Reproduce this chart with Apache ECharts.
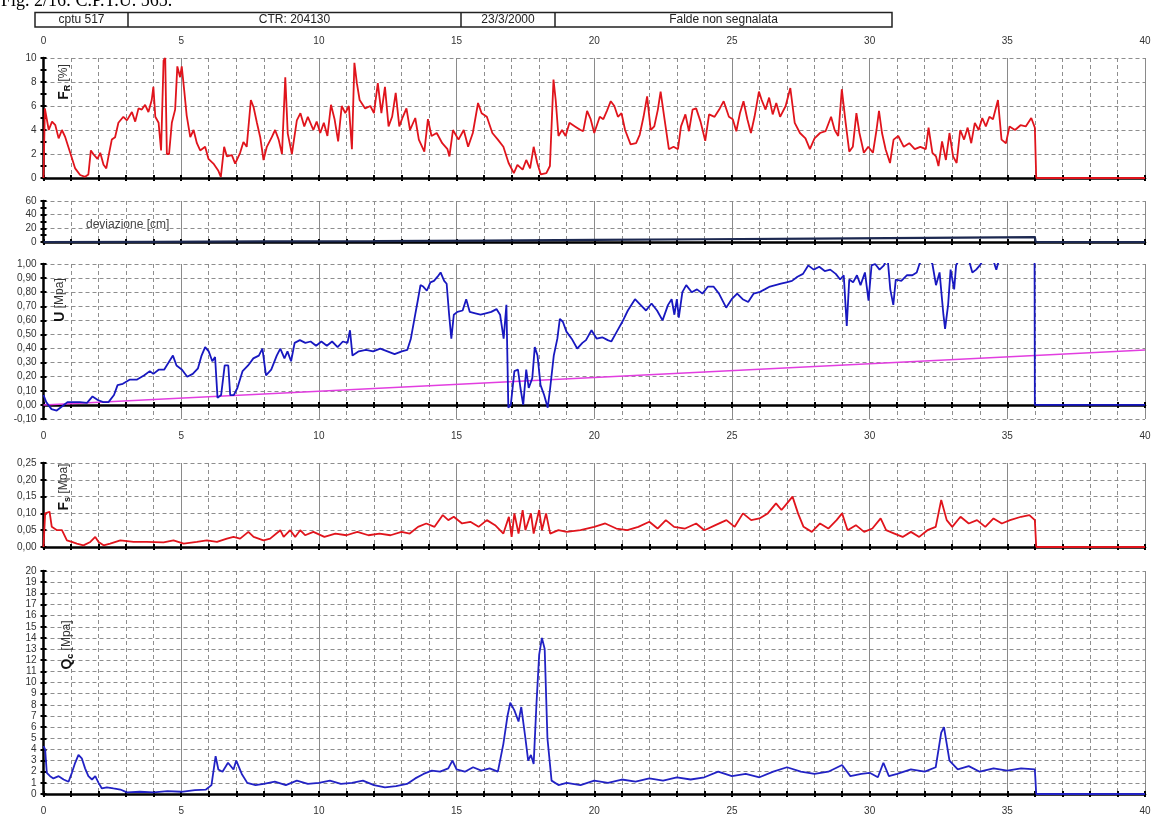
<!DOCTYPE html>
<html><head><meta charset="utf-8">
<script src="https://cdn.jsdelivr.net/npm/echarts@6/dist/echarts.min.js"></script>
<style>html,body{margin:0;padding:0;background:#fff}#c{width:1159px;height:820px}</style>
</head><body><div id="c"></div>
<script>
// ---------- DATA ----------
const depthTicks = [0,5,10,15,20,25,30,35,40];
const headerCells = ['cptu 517','CTR: 204130','23/3/2000','Falde non segnalata'];
const figTitle = 'Fig. 2/16: C.P.T.U. 565.';

// Friction ratio Fr [%] vs depth [m]
const frData = [[0,0],[0.05,5.8],[0.19,4.0],[0.31,4.7],[0.43,4.4],[0.55,3.3],[0.67,4.0],[0.79,3.4],[0.97,2.1],[1.15,0.8],[1.33,0.25],[1.51,0.1],[1.63,0.3],[1.72,2.3],[1.84,1.9],[1.96,1.6],[2.06,2.1],[2.18,1.1],[2.28,0.8],[2.36,1.8],[2.48,3.2],[2.6,3.4],[2.72,4.6],[2.9,5.1],[3.03,4.8],[3.21,5.5],[3.33,4.7],[3.45,5.8],[3.57,5.7],[3.69,6.1],[3.81,5.5],[3.93,6.5],[3.99,7.6],[4.06,5.1],[4.18,4.6],[4.27,2.3],[4.36,9.8],[4.42,10],[4.48,2.0],[4.56,2.0],[4.66,4.6],[4.78,5.7],[4.86,9.3],[4.96,8.4],[5.02,9.3],[5.11,7.3],[5.2,5.2],[5.33,3.4],[5.45,4.0],[5.57,2.9],[5.69,2.3],[5.87,2.6],[5.99,1.6],[6.17,1.2],[6.35,0.6],[6.44,0.1],[6.56,2.6],[6.66,1.8],[6.84,1.9],[6.96,1.2],[7.14,2.1],[7.26,3.0],[7.38,2.6],[7.53,6.5],[7.63,5.9],[7.75,4.6],[7.87,3.4],[7.99,1.5],[8.11,2.6],[8.29,3.4],[8.41,4.0],[8.54,3.2],[8.66,2.0],[8.78,8.4],[8.87,3.7],[9.02,2.0],[9.2,4.8],[9.33,5.4],[9.47,4.3],[9.6,5.1],[9.8,4.0],[9.92,4.7],[10.05,3.75],[10.18,4.6],[10.31,3.5],[10.44,6.1],[10.57,4.9],[10.7,3.05],[10.83,6.0],[10.96,5.4],[11.09,6.0],[11.2,2.4],[11.29,9.6],[11.38,7.9],[11.48,6.5],[11.68,5.8],[11.87,6.0],[12.0,5.4],[12.14,7.9],[12.27,5.4],[12.4,7.6],[12.53,4.3],[12.66,5.1],[12.79,7.1],[12.92,4.3],[13.05,5.1],[13.18,5.8],[13.31,4.0],[13.5,5.0],[13.63,3.2],[13.83,2.2],[13.96,4.9],[14.09,3.5],[14.28,3.75],[14.48,2.9],[14.67,2.4],[14.74,1.8],[14.87,4.0],[15.07,3.2],[15.26,4.0],[15.42,2.6],[15.59,3.75],[15.78,6.25],[15.91,5.4],[16.1,5.1],[16.3,3.75],[16.5,3.2],[16.7,2.6],[16.89,1.25],[17.08,0.4],[17.21,1.1],[17.4,0.7],[17.53,1.5],[17.67,0.8],[17.8,2.6],[17.93,1.25],[18.06,0.3],[18.26,0.4],[18.39,1.0],[18.52,8.2],[18.6,6.5],[18.7,3.5],[18.83,4.0],[18.96,3.5],[19.1,4.6],[19.3,4.3],[19.5,4.0],[19.6,3.9],[19.74,5.6],[19.87,4.9],[20.0,3.75],[20.2,5.1],[20.33,4.9],[20.46,5.6],[20.6,6.4],[20.73,6.0],[20.86,5.1],[20.99,5.4],[21.12,4.0],[21.32,2.8],[21.52,2.9],[21.65,3.6],[21.79,5.1],[21.92,6.8],[22.05,4.0],[22.18,4.3],[22.31,5.7],[22.41,7.2],[22.54,5.1],[22.71,2.4],[22.88,2.6],[23.04,2.4],[23.15,4.3],[23.31,5.3],[23.44,3.9],[23.57,5.7],[23.7,5.8],[23.86,4.7],[24.03,3.1],[24.17,5.3],[24.37,5.1],[24.56,5.8],[24.7,6.4],[24.89,5.1],[25.03,4.9],[25.16,3.9],[25.29,5.4],[25.42,6.4],[25.56,4.9],[25.69,3.75],[25.82,5.1],[25.98,7.2],[26.08,6.5],[26.22,5.7],[26.35,6.7],[26.48,5.3],[26.61,6.25],[26.75,5.1],[26.95,6.0],[27.12,7.5],[27.28,4.6],[27.47,3.75],[27.67,3.3],[27.83,2.4],[28.0,3.3],[28.2,3.75],[28.4,3.9],[28.6,5.1],[28.73,4.0],[28.86,3.5],[28.99,7.4],[29.13,4.6],[29.26,2.2],[29.39,2.6],[29.52,5.4],[29.63,3.75],[29.79,2.1],[29.95,2.6],[30.12,2.1],[30.25,4.0],[30.34,5.6],[30.45,3.75],[30.58,2.4],[30.74,1.25],[30.87,3.2],[31.04,3.5],[31.24,2.6],[31.44,2.9],[31.64,2.4],[31.84,2.6],[32.04,2.4],[32.14,4.2],[32.28,2.1],[32.41,1.8],[32.5,1.0],[32.63,3.05],[32.77,1.5],[32.9,3.75],[33.03,1.8],[33.16,1.25],[33.29,4.0],[33.43,3.2],[33.56,4.2],[33.69,2.9],[33.82,4.6],[33.96,4.0],[34.09,5.0],[34.22,4.3],[34.35,5.1],[34.48,4.9],[34.66,6.5],[34.79,3.2],[34.95,2.9],[35.08,4.3],[35.28,4.0],[35.48,4.4],[35.67,4.3],[35.87,5.0],[36.0,4.2],[36.05,0],[40,0]];

// Deviazione [cm]
const devData = [[0,0],[4,0.3],[8,0.8],[12,1.4],[16,2.1],[20,3.0],[24,4.0],[28,5.0],[32,6.0],[36,7.0],[36.03,0],[40,0]];

// Pore pressure U [MPa]
const uData = [[0,0.07],[0.1,0.02],[0.29,-0.03],[0.48,-0.04],[0.68,-0.01],[0.87,0.02],[1.06,0.02],[1.32,0.02],[1.58,0.015],[1.78,0.06],[1.97,0.035],[2.17,0.02],[2.36,0.02],[2.56,0.07],[2.69,0.14],[2.88,0.15],[3.14,0.18],[3.4,0.18],[3.66,0.21],[3.86,0.24],[3.99,0.22],[4.18,0.25],[4.38,0.25],[4.57,0.31],[4.7,0.35],[4.83,0.28],[5.03,0.25],[5.22,0.2],[5.42,0.22],[5.61,0.26],[5.74,0.35],[5.87,0.41],[6.0,0.38],[6.13,0.31],[6.23,0.34],[6.32,0.05],[6.45,0.07],[6.58,0.28],[6.71,0.28],[6.78,0.07],[6.91,0.07],[7.04,0.12],[7.23,0.24],[7.43,0.28],[7.62,0.33],[7.82,0.35],[7.95,0.4],[8.08,0.21],[8.27,0.25],[8.47,0.35],[8.6,0.4],[8.75,0.33],[8.86,0.38],[8.99,0.31],[9.12,0.44],[9.31,0.46],[9.51,0.44],[9.7,0.45],[9.9,0.42],[10.09,0.45],[10.29,0.42],[10.48,0.45],[10.68,0.41],[10.87,0.45],[11.04,0.44],[11.13,0.53],[11.22,0.35],[11.45,0.38],[11.71,0.39],[11.97,0.38],[12.23,0.4],[12.49,0.38],[12.75,0.36],[13.01,0.38],[13.21,0.39],[13.34,0.47],[13.47,0.61],[13.6,0.75],[13.69,0.85],[13.79,0.84],[13.92,0.81],[14.05,0.87],[14.18,0.88],[14.31,0.91],[14.42,0.94],[14.55,0.88],[14.64,0.86],[14.73,0.64],[14.81,0.47],[14.9,0.64],[15.03,0.66],[15.22,0.67],[15.35,0.75],[15.48,0.66],[15.68,0.65],[15.87,0.64],[16.06,0.65],[16.26,0.66],[16.45,0.68],[16.58,0.64],[16.71,0.47],[16.81,0.71],[16.88,-0.02],[16.97,0.0],[17.1,0.24],[17.23,0.25],[17.32,0.12],[17.42,0.0],[17.53,0.25],[17.62,0.12],[17.75,0.19],[17.84,0.41],[17.94,0.35],[18.05,0.14],[18.18,0.07],[18.31,-0.02],[18.4,0.12],[18.53,0.35],[18.66,0.47],[18.75,0.61],[18.86,0.59],[18.99,0.52],[19.18,0.47],[19.38,0.4],[19.57,0.44],[19.7,0.46],[19.9,0.53],[20.09,0.47],[20.29,0.48],[20.49,0.46],[20.62,0.45],[20.82,0.52],[21.02,0.59],[21.22,0.67],[21.48,0.75],[21.68,0.71],[21.88,0.67],[22.08,0.72],[22.28,0.67],[22.48,0.6],[22.68,0.71],[22.81,0.75],[22.91,0.64],[23.0,0.75],[23.07,0.62],[23.2,0.8],[23.34,0.85],[23.54,0.8],[23.73,0.82],[23.93,0.79],[24.13,0.84],[24.33,0.84],[24.53,0.79],[24.79,0.69],[24.99,0.75],[25.19,0.79],[25.39,0.75],[25.59,0.73],[25.79,0.79],[25.99,0.8],[26.19,0.82],[26.38,0.84],[26.58,0.85],[26.78,0.86],[26.98,0.87],[27.18,0.88],[27.38,0.91],[27.58,0.93],[27.77,0.99],[27.97,0.96],[28.17,0.98],[28.37,0.95],[28.57,0.96],[28.77,0.93],[28.93,0.89],[29.06,0.92],[29.17,0.56],[29.26,0.89],[29.4,0.87],[29.54,0.92],[29.67,0.85],[29.83,0.94],[29.96,0.74],[30.07,0.99],[30.2,1.0],[30.36,0.96],[30.52,0.99],[30.65,1.05],[30.75,0.82],[30.86,0.71],[30.95,0.89],[31.15,0.88],[31.35,0.92],[31.55,0.92],[31.71,0.94],[31.81,1.0],[31.95,1.05],[32.15,1.04],[32.28,1.0],[32.41,0.85],[32.54,0.94],[32.68,0.64],[32.74,0.54],[32.85,0.71],[32.94,0.96],[33.07,0.82],[33.14,0.99],[33.3,1.05],[33.6,1.03],[33.73,0.94],[33.87,0.96],[34.0,0.99],[34.2,1.05],[34.5,1.02],[34.6,0.96],[34.7,1.03],[35.3,1.06],[35.99,1.05],[36.0,0],[40,0]];

// Hydrostatic pressure line U0 [MPa]
const u0Data = [[0,0],[40,0.39]];

// Sleeve friction fs [MPa]
const fsData = [[0,0.0],[0.06,0.1],[0.22,0.105],[0.3,0.06],[0.49,0.05],[0.67,0.05],[0.85,0.02],[1.03,0.015],[1.21,0.01],[1.45,0.005],[1.7,0.015],[1.88,0.03],[2.0,0.015],[2.18,0.005],[2.42,0.01],[2.79,0.02],[3.27,0.015],[3.75,0.015],[4.36,0.014],[4.72,0.02],[5.09,0.01],[5.57,0.015],[5.93,0.02],[6.3,0.015],[6.66,0.025],[6.9,0.03],[7.14,0.025],[7.44,0.045],[7.63,0.03],[7.99,0.02],[8.23,0.025],[8.6,0.05],[8.72,0.03],[8.96,0.05],[9.14,0.03],[9.32,0.05],[9.5,0.035],[9.8,0.045],[10.2,0.03],[10.6,0.04],[11.0,0.035],[11.4,0.045],[11.8,0.035],[12.2,0.04],[12.6,0.035],[13.0,0.045],[13.3,0.04],[13.6,0.06],[13.9,0.07],[14.2,0.06],[14.5,0.095],[14.7,0.08],[14.9,0.09],[15.2,0.07],[15.5,0.075],[15.8,0.06],[16.1,0.08],[16.4,0.065],[16.7,0.04],[16.9,0.09],[17.0,0.03],[17.1,0.1],[17.25,0.04],[17.4,0.11],[17.5,0.05],[17.7,0.1],[17.8,0.04],[18.0,0.11],[18.1,0.05],[18.25,0.1],[18.4,0.04],[18.7,0.05],[19.0,0.045],[19.5,0.05],[20.0,0.06],[20.4,0.07],[20.8,0.055],[21.2,0.05],[21.6,0.06],[22.0,0.075],[22.3,0.055],[22.6,0.08],[22.9,0.06],[23.3,0.055],[23.7,0.07],[24.0,0.05],[24.4,0.065],[24.8,0.08],[25.1,0.06],[25.4,0.1],[25.7,0.08],[26.0,0.085],[26.3,0.1],[26.6,0.13],[26.8,0.11],[27.0,0.13],[27.2,0.15],[27.4,0.1],[27.6,0.06],[27.9,0.045],[28.2,0.07],[28.5,0.055],[28.8,0.08],[29.0,0.1],[29.2,0.05],[29.5,0.065],[29.8,0.045],[30.1,0.055],[30.4,0.085],[30.6,0.05],[30.9,0.04],[31.2,0.03],[31.5,0.045],[31.8,0.03],[32.1,0.05],[32.4,0.06],[32.6,0.14],[32.8,0.08],[33.0,0.06],[33.3,0.09],[33.6,0.07],[33.9,0.08],[34.2,0.06],[34.5,0.085],[34.8,0.07],[35.1,0.08],[35.5,0.09],[35.8,0.095],[36.0,0.08],[36.05,0],[40,0]];

// Cone resistance qc [MPa]
const qcData = [[0,4.3],[0.06,4.0],[0.12,1.9],[0.24,1.6],[0.36,1.4],[0.55,1.6],[0.73,1.3],[0.91,1.1],[1.03,1.9],[1.15,2.8],[1.27,3.5],[1.39,3.2],[1.51,2.3],[1.63,1.6],[1.76,1.3],[1.88,1.6],[2.0,1.0],[2.12,0.5],[2.3,0.6],[2.54,0.5],[2.79,0.4],[3.03,0.15],[3.5,0.2],[4.0,0.15],[4.5,0.25],[5.0,0.2],[5.5,0.35],[5.9,0.4],[6.1,0.8],[6.25,3.4],[6.35,2.2],[6.5,2.0],[6.7,2.8],[6.9,2.2],[7.0,3.0],[7.2,1.8],[7.4,1.0],[7.7,0.8],[8.0,0.9],[8.4,1.1],[8.8,0.8],[9.2,1.2],[9.6,0.9],[10.0,1.0],[10.4,1.2],[10.8,0.9],[11.2,1.0],[11.6,1.2],[12.0,0.8],[12.4,0.6],[12.8,0.7],[13.2,0.9],[13.5,1.4],[13.8,1.8],[14.1,2.1],[14.4,2.0],[14.7,2.3],[14.85,3.0],[15.0,2.2],[15.3,2.0],[15.6,2.4],[15.9,2.1],[16.2,2.3],[16.5,2.0],[16.7,4.5],[16.85,7.0],[16.95,8.2],[17.1,7.5],[17.25,6.5],[17.35,7.8],[17.5,5.0],[17.6,3.0],[17.7,3.5],[17.8,2.7],[17.9,8.0],[18.0,12.5],[18.1,14.0],[18.2,13.0],[18.3,5.0],[18.45,1.2],[18.7,0.8],[19.0,1.0],[19.5,0.8],[20.0,1.2],[20.5,1.0],[21.0,1.3],[21.5,1.1],[22.0,1.4],[22.5,1.2],[23.0,1.5],[23.5,1.3],[24.0,1.5],[24.5,2.0],[25.0,1.6],[25.5,1.8],[26.0,1.5],[26.5,2.0],[27.0,2.4],[27.5,2.0],[28.0,1.8],[28.5,2.0],[29.0,2.6],[29.3,1.6],[29.7,1.8],[30.0,1.9],[30.3,1.5],[30.5,2.8],[30.7,1.6],[31.0,1.8],[31.5,2.2],[32.0,2.0],[32.4,2.4],[32.6,5.5],[32.7,6.0],[32.8,4.5],[32.9,3.0],[33.2,2.2],[33.6,2.5],[34.0,2.0],[34.5,2.3],[35.0,2.1],[35.5,2.3],[36.0,2.2],[36.05,0],[40,0]];

// ---------- LAYOUT / STYLE ----------
const FONT = '"Liberation Sans", Arial, sans-serif';
const LEFT = 43.5, RIGHT = 14;
const GRIDS = [
  {top:58, height:120, min:0, max:10, interval:2, minor:2, fmt:v=>String(v), labelPos:'top'},
  {top:201, height:41, min:0, max:60, interval:20, minor:2, fmt:v=>String(v), labelPos:null},
  {top:264, height:155, min:-0.1, max:1.0, interval:0.1, minor:0, fmt:v=>v.toFixed(2).replace('.',','), labelPos:'bottom'},
  {top:463, height:84, min:0, max:0.25, interval:0.05, minor:0, fmt:v=>v.toFixed(2).replace('.',','), labelPos:null},
  {top:571, height:223, min:0, max:20, interval:1, minor:0, fmt:v=>String(v), labelPos:'bottom'}
];
const dash = {color:'#8e8e8e', width:1, type:[4,3]};
const tickStyle = {color:'#000', width:2};
const grid = GRIDS.map(g => ({left:LEFT, right:RIGHT, top:g.top, height:g.height}));
const xAxis = [], yAxis = [], mainX = [], mainY = [];
const off = {show:false};
function base(gi){return {gridIndex:gi, type:'value', min:0, max:40, interval:5, axisLabel:off, axisLine:{show:false,onZero:true}, axisTick:off, minorTick:off, splitLine:off, minorSplitLine:off};}
GRIDS.forEach((g, gi) => {
  mainX.push(xAxis.length);
  xAxis.push(Object.assign(base(gi), {position:'bottom',
    axisLine:{show:true,onZero:true,lineStyle:{color:'#000',width:2.5}},
    axisTick:{show:true,inside:true,length:3,lineStyle:tickStyle},
    minorTick:{show:true,splitNumber:5,length:3,lineStyle:tickStyle},
    splitLine:{show:true,lineStyle:{color:'#8a8a8a',width:1}},
    minorSplitLine:{show:true,lineStyle:dash}}));
  xAxis.push(Object.assign(base(gi), {position:'bottom',
    axisTick:{show:true,inside:false,length:3,lineStyle:tickStyle},
    minorTick:{show:true,splitNumber:5,length:3,lineStyle:tickStyle}}));
  if (g.labelPos) {
    xAxis.push(Object.assign(base(gi), {position:g.labelPos, axisLine:{show:false,onZero:false},
      axisLabel:{show:true, margin:12, fontSize:10, color:'#333', fontFamily:FONT,
        formatter:v=>depthTicks.indexOf(v)>=0?String(v):''}}));
  }
  mainY.push(yAxis.length);
  yAxis.push({gridIndex:gi, type:'value', position:'left', offset:0, min:g.min, max:g.max, interval:g.interval,
    axisLine:{show:true,onZero:false,lineStyle:{color:'#000',width:2.5}},
    axisTick:{show:true,inside:true,length:3,lineStyle:tickStyle},
    minorTick:{show:g.minor>0,splitNumber:g.minor||2,length:3,lineStyle:tickStyle},
    axisLabel:{show:true,margin:7,fontSize:10,color:'#333',fontFamily:FONT,formatter:g.fmt},
    splitLine:{show:true,lineStyle:dash}, minorSplitLine:off});
  yAxis.push({gridIndex:gi, type:'value', position:'left', offset:0, min:g.min, max:g.max, interval:g.interval,
    axisLine:{show:false,onZero:false}, axisLabel:off, splitLine:off,
    axisTick:{show:true,inside:false,length:3,lineStyle:tickStyle},
    minorTick:{show:g.minor>0,splitNumber:g.minor||2,length:3,lineStyle:tickStyle}});
});

function line(gi, data, color, width, z){
  return {type:'line', xAxisIndex:mainX[gi], yAxisIndex:mainY[gi], data, symbol:'none', showSymbol:false,
    clip:true, z:z||3, lineStyle:{color, width:width||1.5}, emphasis:{disabled:true}};
}
const series = [
  line(0, frData, '#e0141c', 1.8),
  line(1, devData, '#1c2850', 2.2),
  line(2, u0Data, '#e23ee0', 1.5, 2),
  line(2, uData, '#1818c0', 1.8),
  line(3, fsData, '#e0141c', 1.8),
  line(4, qcData, '#2222c4', 1.8)
];

function txt(x, y, text, font, fill, align){
  align = align || 'center';
  return {type:'text', x, y, z:100, style:{text, font, fill:fill||'#222', align, verticalAlign:'middle', textAlign:align, textVerticalAlign:'middle'}};
}
const cellX = [35,128,461,555,892];
const graphic = [
  {type:'text', x:1, y:10, z:100, style:{text:figTitle, font:'18px "Liberation Serif", "Times New Roman", serif', fill:'#000', align:'left', verticalAlign:'bottom', textAlign:'left', textVerticalAlign:'bottom'}},
  {type:'rect', z:100, shape:{x:cellX[0], y:12.5, width:cellX[4]-cellX[0], height:14.5}, style:{fill:'#fff', stroke:'#222', lineWidth:1.5}}
];
for (let i=1;i<4;i++) graphic.push({type:'line', z:101, shape:{x1:cellX[i],y1:12.5,x2:cellX[i],y2:27}, style:{stroke:'#222',lineWidth:1.5}});
headerCells.forEach((t,i)=>graphic.push(txt((cellX[i]+cellX[i+1])/2, 20, t, '12px '+FONT, '#222')));
graphic.push(txt(86, 225, 'deviazione [cm]', '12px '+FONT, '#444', 'left'));
const richT = {
  b:{fontSize:14, fontWeight:'bold', fontFamily:FONT, fill:'#111', color:'#111'},
  s:{fontSize:9, fontWeight:'bold', fontFamily:FONT, fill:'#111', color:'#111', verticalAlign:'bottom', padding:[7,0,0,0]},
  n:{fontSize:12, fontFamily:FONT, fill:'#333', color:'#333'}
};
function vname(x, y, text){
  return {type:'text', x, y, z:100, rotation:Math.PI/2, style:{text, rich:richT, align:'center', verticalAlign:'middle', textAlign:'center', textVerticalAlign:'middle'}};
}
graphic.push(vname(64, 82, '{b|F}{s|R} {n|[%]}'));
graphic.push(vname(60, 300, '{b|U} {n|[Mpa]}'));
graphic.push(vname(64, 487, '{b|F}{s|s} {n|[Mpa]}'));
graphic.push(vname(67, 645, '{b|Q}{s|c} {n|[Mpa]}'));

const chart = echarts.init(document.getElementById('c'), null, {renderer:'canvas'});
chart.setOption({animation:false, backgroundColor:'#fff', grid, xAxis, yAxis, series, graphic});
</script></body></html>
